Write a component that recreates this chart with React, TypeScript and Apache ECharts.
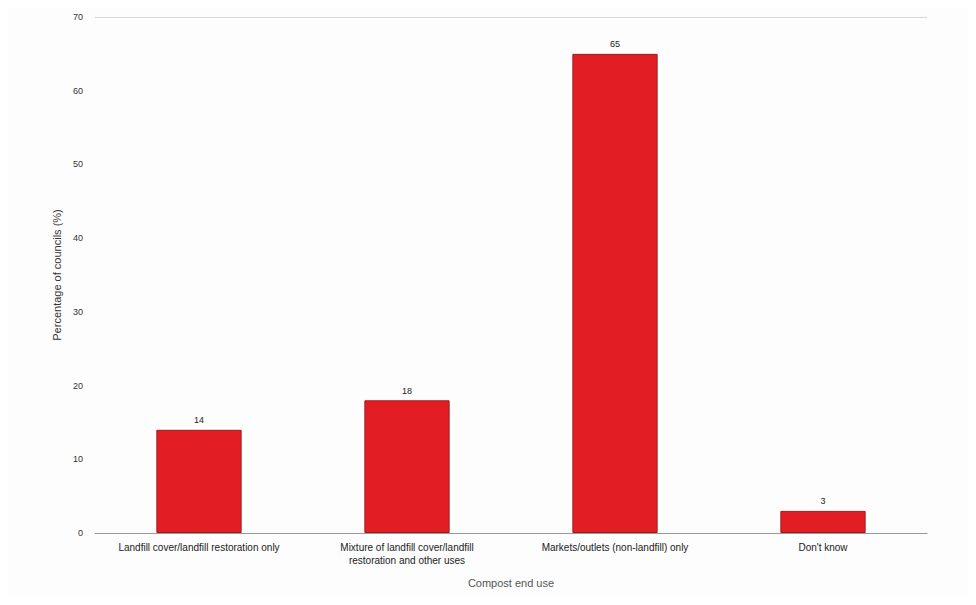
import React, { useEffect, useRef } from "react";
import * as echarts from "echarts";

const categories = [
  "Landfill cover/landfill restoration only",
  "Mixture of landfill cover/landfill\nrestoration and other uses",
  "Markets/outlets (non-landfill) only",
  "Don't know",
];
const values = [14, 18, 65, 3];
const yTicks = [0, 10, 20, 30, 40, 50, 60, 70];

export default function App() {
  const ref = useRef<HTMLDivElement>(null);
  useEffect(() => {
    const chart = echarts.init(ref.current!, null, { renderer: "svg" });
    const font = "'Liberation Sans', Arial, sans-serif";
    chart.setOption({
      animation: false,
      backgroundColor: "#fdfdfd",
      textStyle: { fontFamily: font },
      grid: { left: 87, right: 41, top: 9, bottom: 64, containLabel: false },
      xAxis: {
        type: "category",
        data: categories,
        name: "Compost end use",
        nameLocation: "middle",
        nameGap: 44,
        nameTextStyle: { fontSize: 11, color: "#555", fontFamily: font },
        axisLine: { show: true, lineStyle: { color: "#999", width: 1 } },
        axisTick: { show: false },
        axisLabel: { fontSize: 10, color: "#222", lineHeight: 13, margin: 8, interval: 0, fontFamily: font },
      },
      yAxis: {
        type: "value",
        min: yTicks[0],
        max: yTicks[yTicks.length - 1],
        interval: 10,
        name: "Percentage of councils (%)",
        nameLocation: "middle",
        nameGap: 25,
        nameRotate: 90,
        nameTextStyle: { fontSize: 11, color: "#333", fontFamily: font },
        axisLine: { show: false },
        axisTick: { show: false },
        axisLabel: { fontSize: 9, color: "#333", margin: 12, fontFamily: font },
        splitLine: {
          show: true,
          lineStyle: {
            color: ["transparent", "transparent", "transparent", "transparent", "transparent", "transparent", "transparent", "#d8d8d8"],
            width: 1,
          },
        },
      },
      series: [
        {
          type: "bar",
          data: values,
          barWidth: "41%",
          itemStyle: { color: "#e31d24", borderColor: "#9e1a1e", borderWidth: 1 },
          label: { show: true, position: "top", fontSize: 9, color: "#222", distance: 5, fontFamily: font },
        },
      ],
    });
    return () => chart.dispose();
  }, []);
  return <div ref={ref} style={{ width: 960, height: 589 }} />;
}
